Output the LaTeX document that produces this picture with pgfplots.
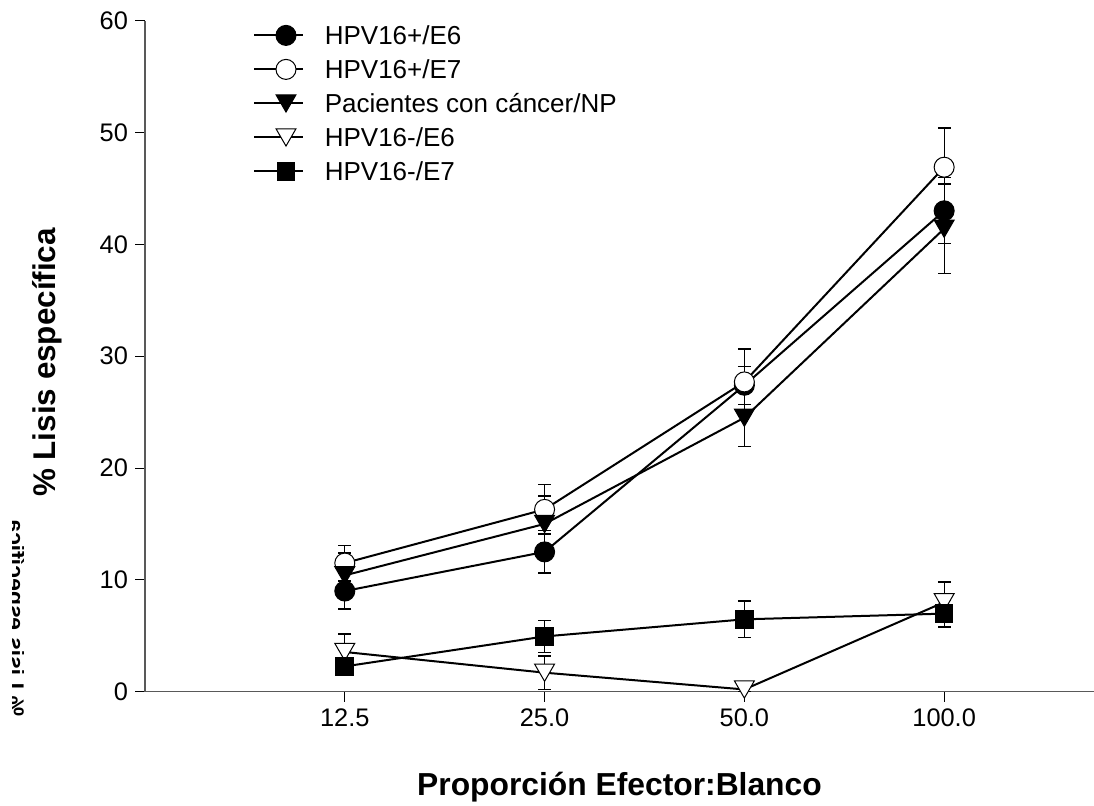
\documentclass[border=0pt]{standalone}
\usepackage{fontspec}
\setmainfont{Liberation Sans}
\usepackage{pgfplots}
\pgfplotsset{compat=1.18}

% shared look of every series: black line, error bars with caps
\pgfplotsset{
  ser/.style={black, line width=1pt,
    error bars/y dir=both, error bars/y explicit,
    error bars/error bar style={line width=0.65pt, solid},
    error bars/error mark options={rotate=90, line width=0.65pt, mark size=3.2pt}},
}

\begin{document}
\begin{tikzpicture}
\begin{axis}[
  at={(72.5pt,57.15pt)}, anchor=south west,
  scale only axis, width=474.5pt, height=335.5pt,
  xmin=0, xmax=4.75, ymin=0, ymax=60,
  axis x line=bottom, axis y line=left,
  axis line style={-, draw=black!65, line width=0.7pt},
  xtick={1,2,3,4}, xticklabels={12.5,25.0,50.0,100.0},
  ytick={0,10,...,60},
  tick align=outside, major tick length=5pt,
  tick style={black, line width=0.5pt},
  tick label style={font=\fontsize{12.7}{15}\selectfont},
  /pgf/number format/assume math mode=true,
  xlabel={Proporción Efector:Blanco},
  ylabel={\% Lisis específica},
  xlabel style={font=\bfseries\fontsize{15.9}{19}\selectfont,
    at={(axis description cs:0.5,-0.1554)}, anchor=base},
  ylabel style={font=\bfseries\fontsize{15.7}{19}\selectfont,
    at={(axis description cs:-0.0943,0.4906)}, anchor=base},
  clip=false,
  legend style={at={(axis description cs:0.1138,0.9976)}, anchor=north west,
    draw=none, fill=none, inner sep=0pt, row sep=4.3pt,
    font=\fontsize{13}{15.6}\selectfont,
    nodes={inner sep=0pt, text height=11pt, text depth=1.7pt},
    /tikz/every odd column/.append style={column sep=10.5pt}},
  legend cell align=left,
  legend image code/.code={
    \draw[#1, mark repeat=2, mark phase=2]
      plot coordinates {(0pt,0pt) (15.8pt,0pt) (24.2pt,0pt)};},
]
% HPV16+/E6
\addplot[ser, mark=*, mark size=5pt, mark options={fill=black, line width=0.5pt}]
  coordinates {(1,9.0) +- (0,1.6) (2,12.5) +- (0,1.9)
               (3,27.4) +- (0,1.7) (4,43.0) +- (0,2.95)};
% HPV16+/E7
\addplot[ser, mark=*, mark size=5pt, mark options={fill=white, line width=0.5pt}]
  coordinates {(1,11.5) +- (0,1.6) (2,16.3) +- (0,2.2)
               (3,27.7) +- (0,2.95) (4,46.9) +- (0,3.5)};
% Pacientes con cancer/NP
\addplot[ser, mark=triangle*, mark size=5.77pt,
  mark options={yshift=1.44pt, rotate=180, fill=black, line width=0.5pt}]
  coordinates {(1,10.4) +- (0,2.0) (2,15.0) +- (0,2.5)
               (3,24.5) +- (0,2.6) (4,41.4) +- (0,4.0)};
% HPV16-/E6
\addplot[ser, mark=triangle*, mark size=5.77pt,
  mark options={yshift=1.44pt, rotate=180, fill=white, line width=0.5pt}]
  coordinates {(1,3.55) +- (0,1.6) (2,1.7) +- (0,1.5)
               (3,0.2) +- (0,0.2) (4,8.0) +- (0,1.8)};
% HPV16-/E7
\addplot[ser, mark=square*, mark size=4.4pt, mark options={fill=black, line width=0.5pt}]
  coordinates {(1,2.26) +- (0,0.8) (2,4.94) +- (0,1.45)
               (3,6.47) +- (0,1.65) (4,6.98) +- (0,1.2)};
\legend{HPV16+/E6, HPV16+/E7, Pacientes con cáncer/NP, HPV16-/E6, HPV16-/E7}
\end{axis}
% mirrored remnant of the y label at the left edge
\begin{scope}
  \clip (6.3pt,0pt) rectangle (11.7pt,403pt);
  \node[xscale=-1, rotate=90, anchor=base west, inner sep=0pt,
        font=\bfseries\fontsize{11.5}{14}\selectfont] at (4pt,44.5pt) {\% Lisis específica};
\end{scope}
\pgfresetboundingbox
\useasboundingbox (0pt,0pt) rectangle (547pt,403pt);
\end{tikzpicture}
\end{document}
